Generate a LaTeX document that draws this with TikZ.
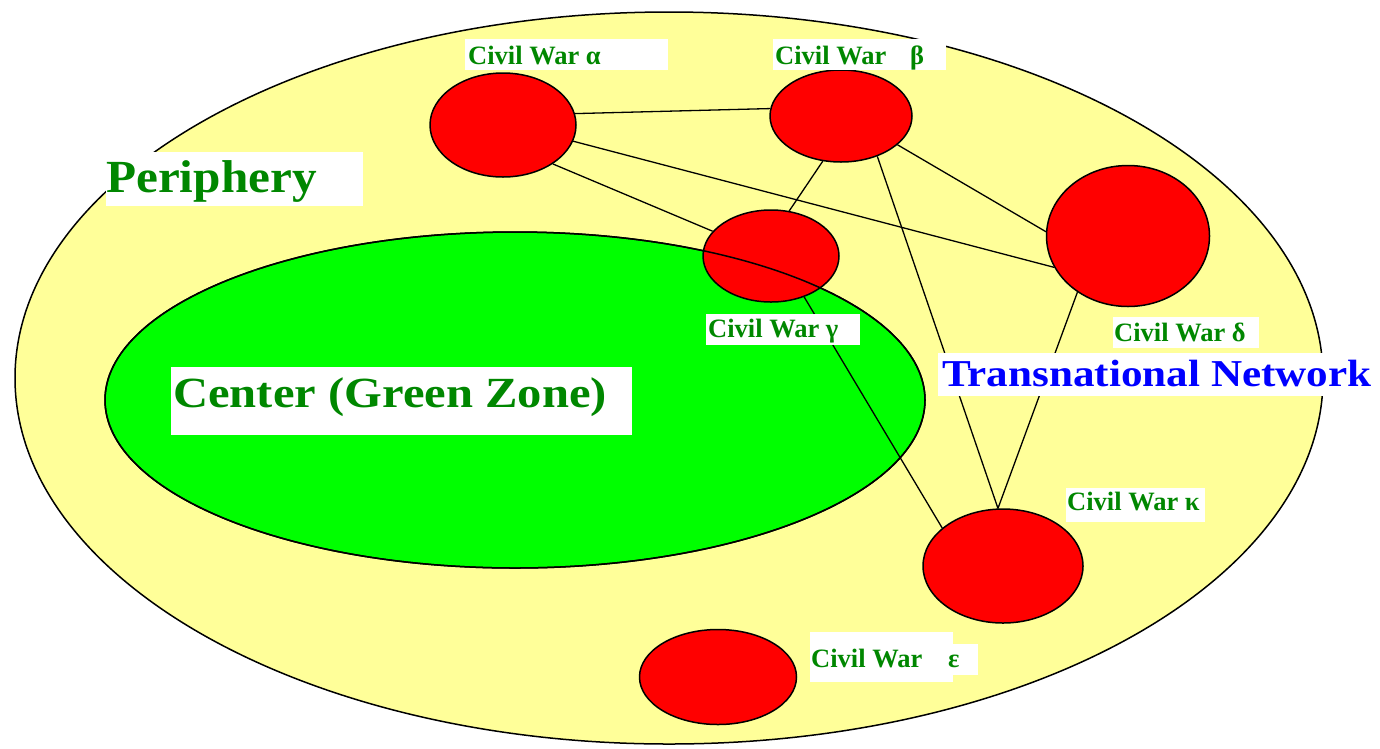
\documentclass[tikz,border=0pt]{standalone}
\usepackage{fontspec}
\setmainfont{Liberation Serif}
\usepackage{graphicx}
\usetikzlibrary{shapes.geometric}
\definecolor{periyellow}{RGB}{255,255,153}
\definecolor{zonegreen}{RGB}{0,255,0}
\definecolor{warred}{RGB}{255,0,0}
\definecolor{labgreen}{RGB}{0,135,0}
\definecolor{labblue}{RGB}{0,0,255}
\begin{document}
\begin{tikzpicture}[x=1pt,y=-1pt,
  region/.style={ellipse, draw=black, line width=1.5pt, inner sep=0pt},
  war/.style={ellipse, draw=black, fill=warred, line width=1.5pt, inner sep=0pt},
  link/.style={draw=black, line width=1.3pt},
  labbox/.style={fill=white},
  warlab/.style={anchor=base west, inner sep=0pt, text=labgreen, font=\bfseries\fontsize{26.5}{30}\selectfont},
  biglab/.style={anchor=base west, inner sep=0pt}]
\useasboundingbox (0,0) rectangle (1380,748);
% regions
\node[region, fill=periyellow, minimum width=1308pt, minimum height=732pt] (periph) at (669,378) {};
\node[region, fill=zonegreen, minimum width=820pt, minimum height=336pt] (zone) at (515,400) {};
% civil wars
\node[war, minimum width=146pt, minimum height=104pt] (a) at (503,125) {};
\node[war, minimum width=142pt, minimum height=92pt] (b) at (841,116) {};
\node[war, minimum width=136pt, minimum height=92pt] (g) at (771,256) {};
\node[war, minimum width=163pt, minimum height=141pt] (d) at (1128,236) {};
\node[war, minimum width=160pt, minimum height=114pt] (k) at (1003,566) {};
\node[war, minimum width=157pt, minimum height=95pt] (e) at (718,677) {};
% links
\draw[link] (a.9) -- (b.174);
\draw[link] (a.-13) -- (d.-157);
\draw[link] (a.-38) -- (g.157);
\draw[link] (b.-112) -- (g.68);
\draw[link] (b.-48) -- (k.95);
\draw[link] (b.-27) -- (d.177);
\draw[link] (d.228) -- (k.95);
\draw[link] (g.-51) -- (k.148);
% green zone outline over gamma
\draw[line width=1.5pt] (zone.center) ellipse [x radius=410, y radius=168];
% labels
\fill[labbox] (465,39) rectangle (668,70);
\node[warlab] (la) at (468,64) {Civil War α};
\fill[labbox] (773,39) rectangle (946,70);
\node[warlab] (lb) at (775,64) {\makebox[135pt][l]{Civil War}β};
\fill[labbox] (706,314) rectangle (860,345);
\node[warlab] (lg) at (708,337) {Civil War γ};
\fill[labbox] (1113,317) rectangle (1259,348);
\node[warlab] (ld) at (1114,341) {Civil War δ};
\fill[labbox] (1066,488) rectangle (1205,522);
\node[warlab] (lk) at (1067,510) {Civil War κ};
\fill[labbox] (810,632) rectangle (953,682);
\fill[labbox] (953,644) rectangle (978,675);
\node[warlab] (le) at (811,667) {\makebox[137pt][l]{Civil War}ε};
\fill[labbox] (106,152) rectangle (363,206);
\node[biglab, text=labgreen, font=\bfseries\fontsize{46}{50}\selectfont] (lp) at (106,192) {\scalebox{1.07}[1]{Periphery}};
\fill[labbox] (171,367) rectangle (632,435);
\node[biglab, text=labgreen, font=\bfseries\fontsize{43}{48}\selectfont] (lc) at (173,407) {\scalebox{1.13}[1]{Center (Green Zone)}};
\fill[labbox] (938,353) rectangle (1373,396);
\node[biglab, text=labblue, font=\bfseries\fontsize{38}{42}\selectfont] (lt) at (942,386) {\scalebox{1.135}[1]{Transnational Network}};
\end{tikzpicture}
\end{document}
